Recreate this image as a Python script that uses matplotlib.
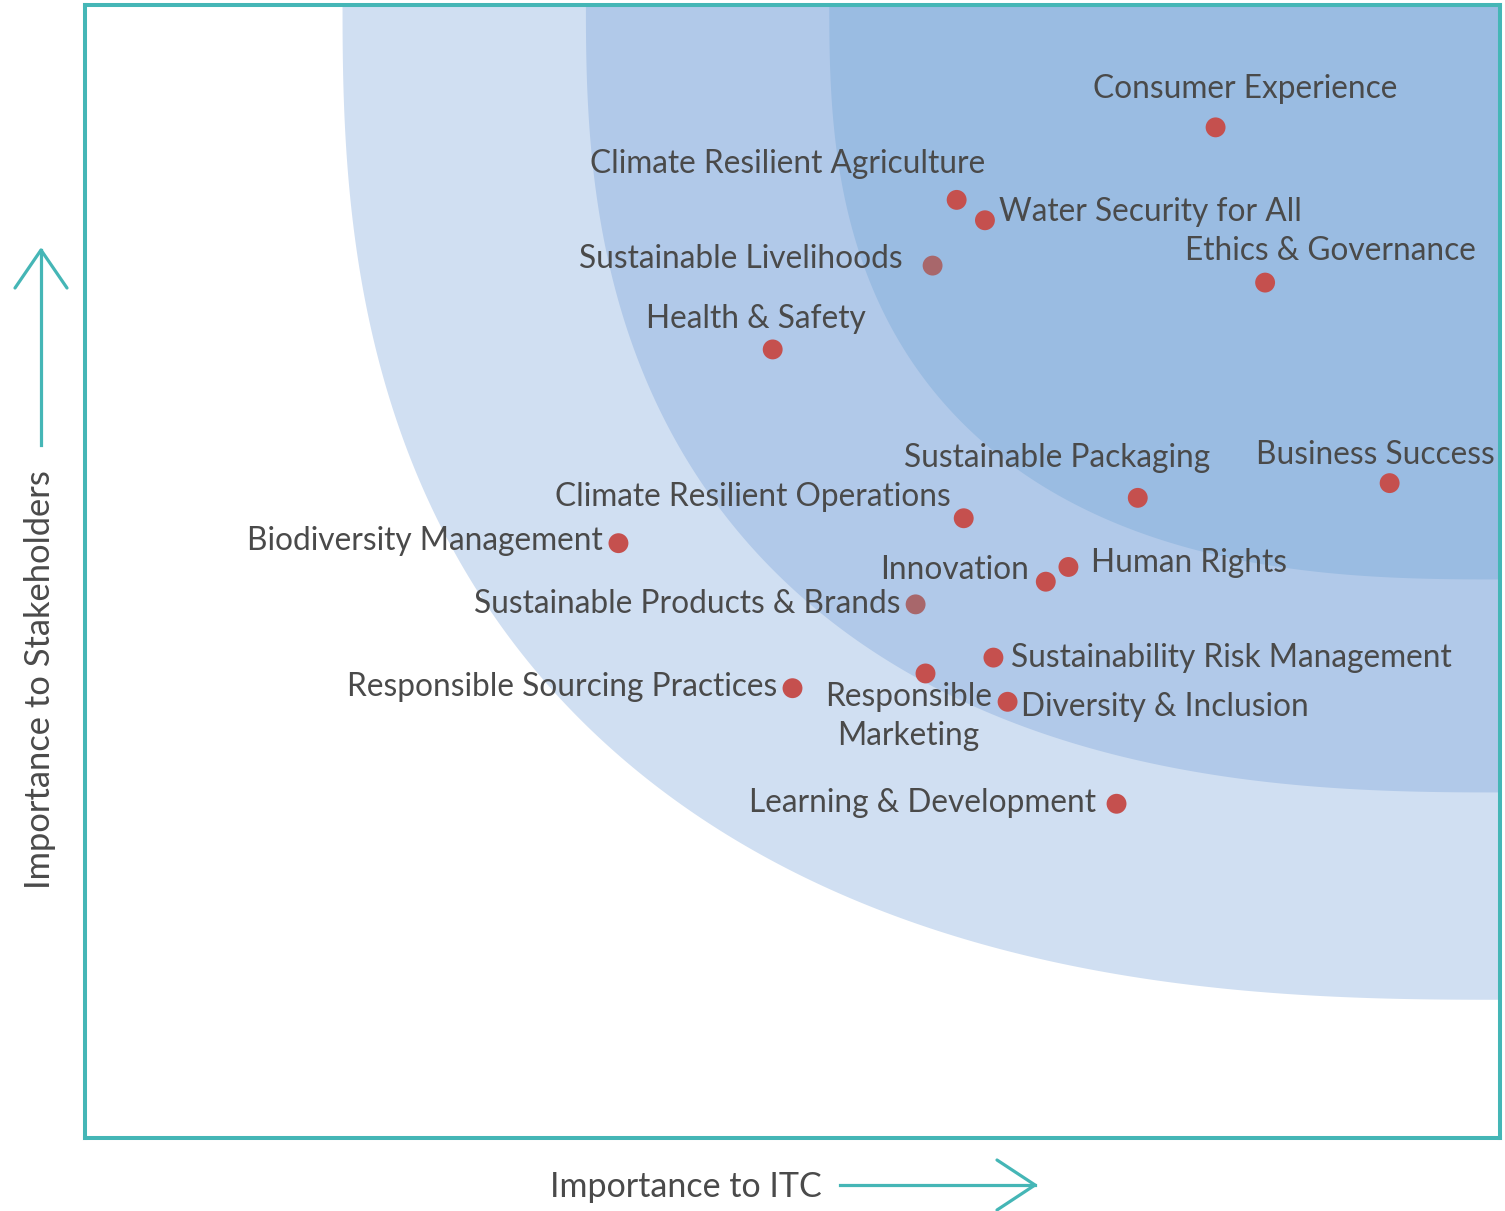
import numpy as np
import matplotlib
matplotlib.use("Agg")
import matplotlib.pyplot as plt
from matplotlib.patches import Polygon

# ---------------- data ----------------
topics = [
    "Consumer Experience", "Climate Resilient Agriculture", "Water Security for All",
    "Sustainable Livelihoods", "Ethics & Governance", "Health & Safety",
    "Sustainable Packaging", "Business Success", "Climate Resilient Operations",
    "Biodiversity Management", "Human Rights", "Innovation",
    "Sustainable Products & Brands", "Sustainability Risk Management",
    "Responsible\nMarketing", "Responsible Sourcing Practices",
    "Diversity & Inclusion", "Learning & Development",
]
importance_itc = [7.99, 6.16, 6.36, 5.99, 8.34, 4.86, 7.44, 9.22, 6.21,
                  3.77, 6.95, 6.79, 5.87, 6.42, 5.94, 5.00, 6.52, 7.29]
importance_stakeholders = [8.92, 8.28, 8.10, 7.70, 7.55, 6.96, 5.65, 5.78, 5.47,
                           5.25, 5.04, 4.91, 4.71, 4.24, 4.10, 3.97, 3.85, 2.95]
muted = [False, False, False, True, False, False, False, False, False,
         False, False, False, True, False, False, False, False, False]

# label placement: (dx px, dy px (down positive), ha)
label_pos = [
    (30, -38, "center"), (-169, -36, "center"), (14, -8, "left"),
    (-30, -7, "right"), (65, -32, "center"), (-17, -30, "center"),
    (-81, -40, "center"), (-14, -28, "center"), (-13, -21, "right"),
    (-16, -2, "right"), (23, -4, "left"), (-17, -12, "right"),
    (-15, 0, "right"), (18, 0, "left"), (-17, 43, "center"),
    (-15, -1, "right"), (13, 5, "left"), (-21, -1, "right"),
]

# zone bands: (left edge x, bottom edge y, exponent, colour)
bands = [
    (1.82, 1.22, 2.5, "#d0dff2"),
    (3.54, 3.05, 2.5, "#b1c9e9"),
    (5.26, 4.93, 2.6, "#9abce2"),
]

TEAL = "#45b6b6"
TEXT = "#4a4a4a"
FONT = "Lato"

W, H = 1505, 1211
fig = plt.figure(figsize=(W / 100, H / 100), dpi=100)
ax = fig.add_axes([85 / W, (H - 1138) / H, (1500 - 85) / W, (1138 - 5) / H])
ax.set_xlim(0, 10)
ax.set_ylim(0, 10)
ax.set_xticks([])
ax.set_yticks([])
for s in ax.spines.values():
    s.set_color(TEAL)
    s.set_linewidth(2.9)
    s.set_zorder(10)

t = np.linspace(0, np.pi / 2, 400)
for left, bottom, n, col in bands:
    a = 10 - left
    b = 10 - bottom
    xs = 10 - a * np.cos(t) ** (2 / n)
    ys = 10 - b * np.sin(t) ** (2 / n)
    pts = np.column_stack([np.r_[xs, 10.5, 10.5], np.r_[ys, ys[-1], 10.5]])
    pts = np.vstack([[left, 10.5], pts])
    ax.add_patch(Polygon(pts, closed=True, facecolor=col, edgecolor="none", zorder=1))

colors = ["#a8676b" if m else "#c5504e" for m in muted]
ax.scatter(importance_itc, importance_stakeholders, s=205, c=colors,
           edgecolors="none", zorder=5)

for name, x, y, (dx, dy, ha) in zip(topics, importance_itc, importance_stakeholders, label_pos):
    ax.annotate(name, (x, y), xytext=(dx * 0.72, -dy * 0.72), textcoords="offset points",
                ha=ha, va="center", fontsize=22.8, color=TEXT, family=FONT,
                linespacing=1.35, zorder=6)

# axis titles
fig.text(686 / W, 1 - 1187 / H, "Importance to ITC", ha="center", va="center",
         fontsize=24.5, color=TEXT, family=FONT)
fig.text(40 / W, 1 - 680 / H, "Importance to Stakeholders", ha="center", va="center",
         rotation=90, fontsize=24.8, color=TEXT, family=FONT)

# arrows
def fx(p):
    return p / W

def fy(p):
    return 1 - p / H

lw = 2.3
fig.add_artist(plt.Line2D([fx(840), fx(1035)], [fy(1185), fy(1185)], color=TEAL, lw=lw))
fig.add_artist(plt.Line2D([fx(997), fx(1035), fx(997)], [fy(1160), fy(1185), fy(1210)],
                          color=TEAL, lw=lw, solid_capstyle="round"))
fig.add_artist(plt.Line2D([fx(41), fx(41)], [fy(445), fy(250)], color=TEAL, lw=lw))
fig.add_artist(plt.Line2D([fx(15), fx(41), fx(67)], [fy(288), fy(250), fy(288)],
                          color=TEAL, lw=lw, solid_capstyle="round"))

fig.savefig("out.png", dpi=100)
